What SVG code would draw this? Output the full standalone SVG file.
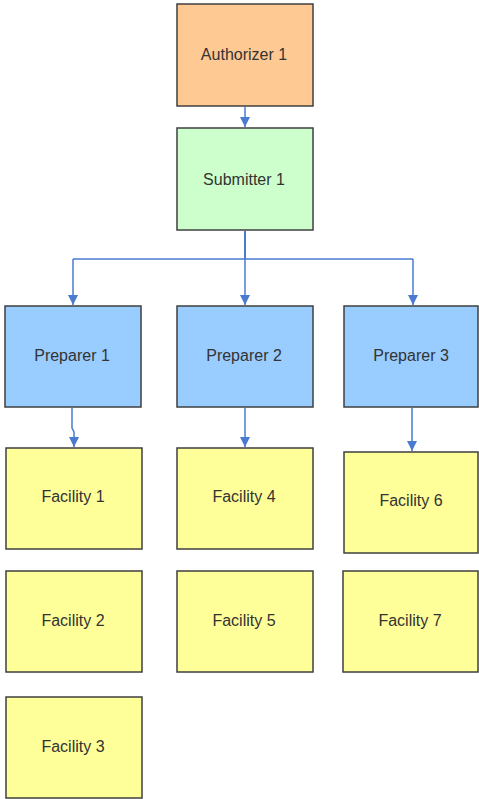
<svg xmlns="http://www.w3.org/2000/svg" width="479" height="799" viewBox="0 0 479 799">
  <defs>
    <marker id="arrow" viewBox="0 0 10 10" refX="10" refY="5" markerWidth="10" markerHeight="10" markerUnits="userSpaceOnUse" orient="auto">
      <path d="M0,0 L10,5 L0,10 z" fill="#4a7bd0"/>
    </marker>
  </defs>
  <style>
    .box { stroke: #3f3f3f; stroke-width: 1.5; }
    .auth { fill: #ffc993; }
    .sub { fill: #ccffcc; }
    .prep { fill: #99ccff; }
    .fac { fill: #ffff99; }
    .label { font-family: "Liberation Sans", Arial, sans-serif; font-size: 16px; fill: #333333; text-anchor: middle; dominant-baseline: central; }
    .conn { fill: none; stroke: #4a7bd0; stroke-width: 1.5; }
  </style>
  <rect width="479" height="799" fill="#ffffff"/>

  <g id="connectors">
    <path class="conn" d="M245,107 L245,127" marker-end="url(#arrow)"/>
    <path class="conn" d="M245,231 L245,259" style="stroke-width:2"/>
    <path class="conn" d="M73,259 L413,259"/>
    <path class="conn" d="M73,259 L73,305" marker-end="url(#arrow)"/>
    <path class="conn" d="M245,259 L245,305" marker-end="url(#arrow)"/>
    <path class="conn" d="M413,259 L413,305" marker-end="url(#arrow)"/>
    <path class="conn" d="M72,408 L72,428 L74,432 L74,447" marker-end="url(#arrow)"/>
    <path class="conn" d="M245,408 L245,447" marker-end="url(#arrow)"/>
    <path class="conn" d="M412,408 L412,451" marker-end="url(#arrow)"/>
  </g>

  <g id="authorizer1">
    <rect class="box auth" x="177" y="4" width="136" height="102"/>
    <text class="label" x="244" y="54">Authorizer 1</text>
  </g>
  <g id="submitter1">
    <rect class="box sub" x="177" y="128" width="136" height="102"/>
    <text class="label" x="244" y="179">Submitter 1</text>
  </g>

  <g id="preparer1">
    <rect class="box prep" x="5" y="306" width="136" height="101"/>
    <text class="label" x="72" y="355">Preparer 1</text>
  </g>
  <g id="preparer2">
    <rect class="box prep" x="177" y="306" width="136" height="101"/>
    <text class="label" x="244" y="355">Preparer 2</text>
  </g>
  <g id="preparer3">
    <rect class="box prep" x="344" y="306" width="134" height="101"/>
    <text class="label" x="411" y="355">Preparer 3</text>
  </g>

  <g id="facility1">
    <rect class="box fac" x="6" y="448" width="136" height="101"/>
    <text class="label" x="73" y="496">Facility 1</text>
  </g>
  <g id="facility4">
    <rect class="box fac" x="177" y="448" width="136" height="101"/>
    <text class="label" x="244" y="496">Facility 4</text>
  </g>
  <g id="facility6">
    <rect class="box fac" x="344" y="452" width="134" height="101"/>
    <text class="label" x="411" y="500">Facility 6</text>
  </g>

  <g id="facility2">
    <rect class="box fac" x="6" y="571" width="136" height="101"/>
    <text class="label" x="73" y="620">Facility 2</text>
  </g>
  <g id="facility5">
    <rect class="box fac" x="177" y="571" width="136" height="101"/>
    <text class="label" x="244" y="620">Facility 5</text>
  </g>
  <g id="facility7">
    <rect class="box fac" x="343" y="571" width="135" height="101"/>
    <text class="label" x="410" y="620">Facility 7</text>
  </g>

  <g id="facility3">
    <rect class="box fac" x="6" y="697" width="136" height="101"/>
    <text class="label" x="73" y="746">Facility 3</text>
  </g>
</svg>
